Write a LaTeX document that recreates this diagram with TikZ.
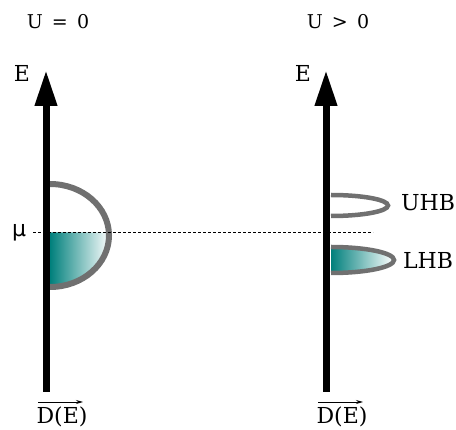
\documentclass[tikz,border=0pt]{standalone}
\usepackage{fontspec}
\setmainfont{DejaVu Serif}
\newfontfamily\greekfont{DejaVu Sans}
\usetikzlibrary{arrows.meta}
\definecolor{bandteal}{RGB}{0,128,124}
\definecolor{bandgray}{RGB}{112,112,112}
\tikzset{
  axisline/.style={line width=7pt,-{Triangle[length=36pt,width=21pt]}},
  bandline/.style={draw=bandgray},
  bandfill/.style={left color=bandteal,right color=white},
  lbl/.style={inner sep=0pt,font=\fontsize{22}{24}\selectfont},
  toplbl/.style={inner sep=0pt,font=\fontsize{19}{21}\selectfont},
  dosarrow/.style={line width=0.8pt,-{Stealth[length=7pt,width=4pt]}},
  muline/.style={line width=1pt,dash pattern=on 3pt off 2pt}
}
\begin{document}
\begin{tikzpicture}[x=1pt,y=-1pt]
\useasboundingbox (0,0) rectangle (456,430);
% coordinates
\coordinate (lbot) at (46,392);
\coordinate (ltop) at (46,70);
\coordinate (rbot) at (326,392);
\coordinate (rtop) at (326,70);
\coordinate (mua) at (33,232.5);
\coordinate (mub) at (373,232.5);
% left band: filled part below mu
\shade[bandfill] (50,232.5) -- (108.9,232.5) arc[start angle=-3.3,end angle=90,x radius=59,y radius=51.5] -- cycle;
\draw[bandline,line width=6pt] (50,184) arc[start angle=-90,end angle=90,x radius=59,y radius=51.5];
% UHB
\draw[bandline,line width=4.5pt] (331,195) arc[start angle=-90,end angle=90,x radius=57,y radius=10.5];
% LHB
\shade[bandfill] (331,247) arc[start angle=-90,end angle=90,x radius=63,y radius=13] -- cycle;
\draw[bandline,line width=4.5pt] (331,247) arc[start angle=-90,end angle=90,x radius=63,y radius=13];
% mu line
\draw[muline] (mua) -- (mub);
% axes
\draw[axisline] (lbot) -- (ltop);
\draw[axisline] (rbot) -- (rtop);
% labels
\node[toplbl] (u0) at (58,22) {U\,\ =\,\ 0};
\node[toplbl] (up) at (338,22) {U\,\ >\,\ 0};
\node[lbl] (el) at (22,73) {E};
\node[lbl] (er) at (303,73) {E};
\node[lbl,font=\fontsize{22}{24}\greekfont] (mu) at (19,233) {μ};
\node[lbl] (uhb) at (428,203) {UHB};
\node[lbl] (lhb) at (428,260) {LHB};
\node[lbl] (dl) at (62,417) {D(E)};
\node[lbl] (dr) at (342,417) {D(E)};
\coordinate (dla) at (38,402);
\coordinate (dlb) at (83,402);
\coordinate (dra) at (318,402);
\coordinate (drb) at (363,402);
\draw[dosarrow] (dla) -- (dlb);
\draw[dosarrow] (dra) -- (drb);
\end{tikzpicture}
\end{document}
